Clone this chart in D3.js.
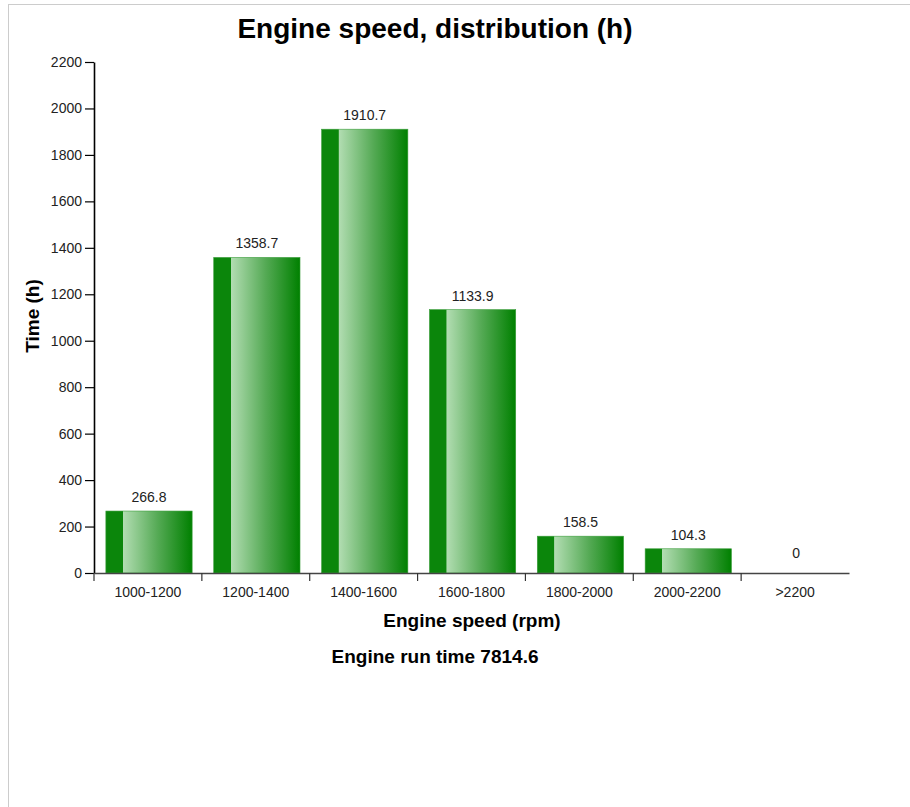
<!DOCTYPE html>
<html><head><meta charset="utf-8">
<script src="https://cdn.jsdelivr.net/npm/d3@7/dist/d3.min.js"></script>
<style>
body{margin:0;background:#fff;font-family:"Liberation Sans",Arial,sans-serif;}
</style></head>
<body>
<svg id="chart" width="910" height="807"></svg>
<script>
const categories = ["1000-1200","1200-1400","1400-1600","1600-1800","1800-2000","2000-2200",">2200"];
const hours = [266.8, 1358.7, 1910.7, 1133.9, 158.5, 104.3, 0];
const yTicks = [0,200,400,600,800,1000,1200,1400,1600,1800,2000,2200];
const titleText = "Engine speed, distribution (h)";
const xTitle = "Engine speed (rpm)";
const yTitle = "Time (h)";
const runTimeText = "Engine run time 7814.6";

const svg = d3.select("#chart");
const mLeft = 94, mRight = 849, mTop = 62, mBottom = 573;
const FONT = "Liberation Sans, Arial, sans-serif";

// frame
svg.append("rect").attr("x",8.5).attr("y",4.5).attr("width",1000).attr("height",1000)
  .attr("fill","none").attr("stroke","#cccccc").attr("stroke-width",1);

const defs = svg.append("defs");
const grad = defs.append("linearGradient").attr("id","barGrad").attr("x1","0").attr("x2","1").attr("y1","0").attr("y2","0");
grad.append("stop").attr("offset","0").attr("stop-color","#0b860b");
grad.append("stop").attr("offset","0.195").attr("stop-color","#0b860b");
grad.append("stop").attr("offset","0.2").attr("stop-color","#b2ddb2");
grad.append("stop").attr("offset","0.6").attr("stop-color","#55aa55");
grad.append("stop").attr("offset","1").attr("stop-color","#008000");

const x = d3.scaleBand().domain(categories).range([mLeft,mRight]).padding(0);
const y = d3.scaleLinear().domain([0,2200]).range([mBottom,mTop]);
const bw = x.bandwidth();

// bars
svg.append("g").selectAll("rect").data(categories).join("rect")
  .attr("x", (c)=>x(c)+bw*0.11)
  .attr("width", bw*0.8)
  .attr("y", (c,i)=>y(hours[i]))
  .attr("height", (c,i)=>y(0)-y(hours[i]))
  .attr("fill","url(#barGrad)")
  .attr("stroke","#3c9e3c").attr("stroke-width",0.6);

// value labels
svg.append("g").selectAll("text").data(categories).join("text")
  .attr("x", (c)=>x(c)+bw*0.51)
  .attr("y", (c,i)=>Math.min(y(hours[i]), y(0)-6)-9)
  .attr("text-anchor","middle")
  .attr("font-family",FONT).attr("font-size","14px").attr("fill","#222")
  .text((c,i)=>hours[i]);

// y axis
const yAxis = svg.append("g").attr("transform",`translate(${mLeft},0)`)
  .call(d3.axisLeft(y).tickValues(yTicks).tickFormat(d3.format("d")).tickSize(9).tickSizeOuter(0).tickPadding(3));
yAxis.attr("font-size",14).attr("font-family",FONT);
yAxis.select(".domain").attr("stroke","#000").attr("stroke-width",1.6);
yAxis.selectAll(".tick line").attr("stroke","#000").attr("stroke-width",1.2);
yAxis.selectAll(".tick text").attr("fill","#222");

// x axis
const xAxis = svg.append("g").attr("transform",`translate(0,${mBottom})`)
  .call(d3.axisBottom(x).tickSize(0).tickSizeOuter(0).tickPadding(14));
xAxis.attr("font-size",14).attr("font-family",FONT);
xAxis.select(".domain").attr("stroke","#444").attr("stroke-width",1.6);
xAxis.selectAll(".tick text").attr("fill","#222");
xAxis.selectAll("line.bound").data(categories).join("line").attr("class","bound")
  .attr("x1",(c)=>x(c)).attr("x2",(c)=>x(c)).attr("y1",0).attr("y2",8)
  .attr("stroke","#333").attr("stroke-width",1.2);

// titles
svg.append("text").attr("x",435).attr("y",38).attr("text-anchor","middle").attr("font-family",FONT)
  .attr("font-size","28px").attr("font-weight","bold").attr("fill","#000").text(titleText);
svg.append("text").attr("x",472).attr("y",627).attr("text-anchor","middle").attr("font-family",FONT)
  .attr("font-size","19px").attr("font-weight","bold").attr("fill","#000").text(xTitle);
svg.append("text").attr("x",435).attr("y",663).attr("text-anchor","middle").attr("font-family",FONT)
  .attr("font-size","19px").attr("font-weight","bold").attr("fill","#000").text(runTimeText);
svg.append("text").attr("transform","translate(39,316) rotate(-90)").attr("text-anchor","middle").attr("font-family",FONT)
  .attr("font-size","19px").attr("font-weight","bold").attr("fill","#000").text(yTitle);
</script>
</body></html>
